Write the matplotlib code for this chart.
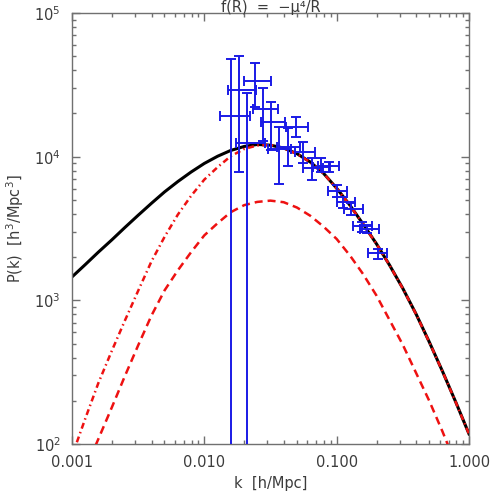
import numpy as np
import matplotlib
matplotlib.use("Agg")
import matplotlib.pyplot as plt
import matplotlib.ticker as ticker

# k grid the model curves were read on (0.1 dex steps)
k_grid = [0.001, 0.00126, 0.00158, 0.002, 0.00251, 0.00316, 0.00398, 0.00501, 0.00631, 0.00794,
          0.01, 0.0126, 0.0158, 0.02, 0.0251, 0.0316, 0.0398, 0.0501, 0.0631, 0.0794,
          0.1, 0.126, 0.158, 0.2, 0.251, 0.316, 0.398, 0.501, 0.631, 0.794, 1.0]

# black solid: full model
P_tot = [1455, 1774, 2163, 2636, 3214, 3908, 4732, 5689, 6714, 7816,
         8974, 10069, 11041, 11776, 12162, 12023, 11482, 10495, 9183, 7674,
         6026, 4592, 3404, 2472, 1758, 1211, 803.5, 512.9, 319.9, 195.9, 117.5]

# red dash-dot
P_dd = [82.6, 150.3, 264.9, 445.6, 722.8, 1164, 1862, 2771, 3954, 5333,
        6928, 8453, 10069, 11313, 11967, 12078, 11429, 10447, 9162, 7656,
        6012, 4580, 3396, 2466, 1754, 1208, 801, 511.7, 319.2, 195.4, 117.2]

# red dashed (starts at the second grid point, stops before k = 1)
P_dash = [66.5, 108.1, 179.8, 297.2, 485.3, 781.6, 1174, 1618, 2163,
          2834, 3443, 4102, 4597, 4842, 4943, 4819, 4426, 3882, 3266,
          2673, 2051, 1528, 1079, 729.5, 490.9, 312.6, 199.5, 121.9, 72.4]

# measured band powers
k_data = [0.01591, 0.01830, 0.02103, 0.02416, 0.02763, 0.03192, 0.03689, 0.04255, 0.04932, 0.05602,
          0.06550, 0.07580, 0.08809, 0.1012, 0.1123, 0.1285, 0.1547, 0.1688, 0.2066]
k_lo = [0.01315, 0.01503, 0.01737, 0.01979, 0.02321, 0.02659, 0.03031, 0.03544, 0.04145, 0.04848,
        0.05572, 0.06631, 0.07233, 0.0861, 0.1002, 0.1137, 0.1323, 0.1503, 0.1736]
k_hi = [0.02215, 0.02459, 0.02876, 0.03192, 0.03588, 0.04074, 0.04520, 0.05289, 0.06047, 0.06866,
        0.07889, 0.08917, 0.1042, 0.1192, 0.1377, 0.1575, 0.1842, 0.2103, 0.2416]
P_data = [19100, 29120, 12400, 33370, 21380, 17520, 11220, 11680, 16170, 10830,
          8305, 8520, 8616, 5771, 4817, 4300, 3294, 3124, 2127]
P_hi = [47630, 50220, 27880, 44670, 29930, 23910, 16020, 15830, 18800, 12720,
        9795, 9795, 9230, 6356, 5242, 4763, 3530, 3347, 2268]
P_lo = [-9430, 7862, -3080, 22180, 12800, 11130, 6457, 8549, 13650, 8999,
        6884, 7862, 7862, 5268, 4374, 3930, 3007, 2931, 1932]

xticks = [0.001, 0.01, 0.1, 1.0]
xticklabels = ["0.001", "0.010", "0.100", "1.000"]

txt = "#3c3c3c"
plt.rcParams["font.family"] = ["DejaVu Sans"]
plt.rcParams["mathtext.fontset"] = "dejavusans"

fig = plt.figure(figsize=(4.91, 4.91), dpi=100)
ax = fig.add_axes([72 / 491, 1 - 444 / 491, 397 / 491, 431 / 491])

ax.plot(k_grid, P_tot, color="black", lw=2.2, zorder=2)
ax.plot(k_grid, P_dd, color="#ee1111", lw=1.8, dashes=(2.4, 1.4, 0.6, 1.4), zorder=3)
ax.plot(k_grid[1:30], P_dash, color="#ee1111", lw=1.8, dashes=(3.2, 2.0), zorder=3)

kd = np.array(k_data)
pd_ = np.array(P_data)
xerr = [kd - np.array(k_lo), np.array(k_hi) - kd]
yerr = [pd_ - np.array(P_lo), np.array(P_hi) - pd_]
ax.errorbar(kd, pd_, xerr=xerr, yerr=yerr, fmt="none", ecolor="#1a1ae6",
            elinewidth=1.4, capsize=3.5, capthick=1.4, zorder=4)

ax.set_xscale("log")
ax.set_yscale("log", nonpositive="clip")
ax.set_xlim(0.001, 1.0)
ax.set_ylim(100, 1e5)

ax.xaxis.set_major_locator(ticker.FixedLocator(xticks))
ax.xaxis.set_major_formatter(ticker.FixedFormatter(xticklabels))
ax.xaxis.set_minor_locator(ticker.LogLocator(base=10, subs=np.arange(2, 10)))
ax.xaxis.set_minor_formatter(ticker.NullFormatter())
ax.yaxis.set_major_locator(ticker.LogLocator(base=10, numticks=10))
ax.yaxis.set_minor_locator(ticker.LogLocator(base=10, subs=np.arange(2, 10), numticks=20))
ax.yaxis.set_minor_formatter(ticker.NullFormatter())

for s in ax.spines.values():
    s.set_color("#707070")
    s.set_linewidth(1.0)
ax.tick_params(which="both", direction="in", top=True, right=True,
               colors="#707070", labelcolor=txt, labelsize=10.5)
ax.tick_params(which="major", length=6, width=1.0, pad=8)
ax.tick_params(which="minor", length=3, width=1.0)

ax.set_xlabel("k  [h/Mpc]", color=txt, fontsize=10.5, labelpad=4)
ax.set_ylabel(r"P(k)  [h$^3$/Mpc$^3$]", color=txt, fontsize=10.5, labelpad=6)
fig.text(270.5 / 491, 1 - 12.3 / 491, "f(R)  =  \u2212\u03bc\u2074/R", color=txt, fontsize=10.5,
         ha="center", va="baseline")

fig.savefig("out.png", dpi=100)
